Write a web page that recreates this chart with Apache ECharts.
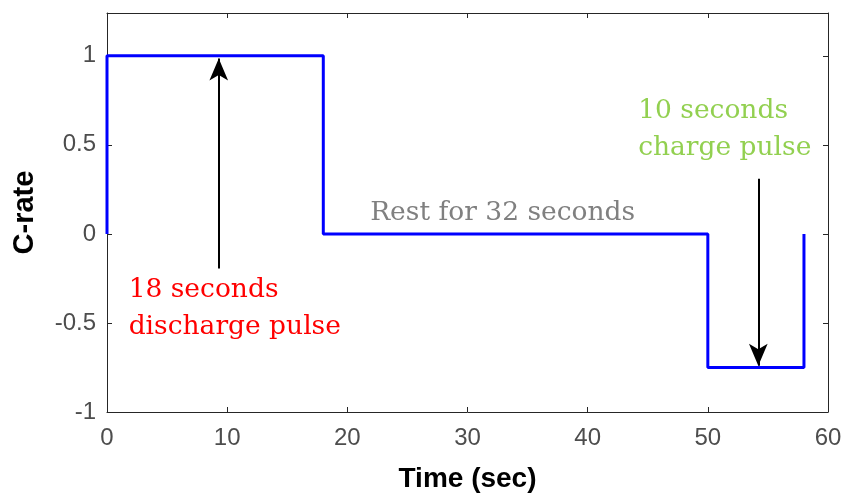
<!DOCTYPE html>
<html>
<head>
<meta charset="utf-8">
<script src="https://cdn.jsdelivr.net/npm/echarts@6/dist/echarts.min.js"></script>
<style>
  html, body { margin: 0; padding: 0; background: #fff; }
  #chart { width: 845px; height: 493px; }
</style>
</head>
<body>
<div id="chart"></div>
<script>
// Pulse profile: C-rate against time (step changes)
const times = [0, 0, 18, 18, 50, 50, 58, 58];
const rates = [0, 1, 1, 0, 0, -0.75, -0.75, 0];

// Axis settings
const xTicks = [0, 10, 20, 30, 40, 50, 60];
const yTicks = [-1, -0.5, 0, 0.5, 1];

// Annotation arrows [x, yFrom, yTo] in data units
const dischargeArrow = [9.3, -0.195, 0.985];
const chargeArrow = [54.2, 0.31, -0.74];

// Annotation texts: [text, x, y, colour]
const notes = [
  ['18 seconds\ndischarge pulse', 1.8, -0.42, '#ff0000'],
  ['Rest for 32 seconds', 21.9, 0.115, '#808080'],
  ['10 seconds\ncharge pulse', 44.2, 0.585, '#92d050']
];

const pts = times.map((t, i) => [t, rates[i]]);
const axisCol = '#262626';
const labCol = '#4d4d4d';
const sans = 'Liberation Sans, Arial, sans-serif';
const serif = 'DejaVu Serif, serif';

const chart = echarts.init(document.getElementById('chart'));

function arrowLine(a) {
  return [{ coord: [a[0], a[1]] }, { coord: [a[0], a[2]] }];
}

const frameAxis = {
  axisLine: { show: true, onZero: false, lineStyle: { color: axisCol } },
  axisTick: { show: true, inside: true, length: 5, lineStyle: { color: axisCol } },
  axisLabel: { show: false },
  splitLine: { show: false }
};

chart.setOption({
  animation: false,
  grid: { left: 107, right: 17, top: 13, bottom: 81, containLabel: false, outerBoundsMode: 'none' },
  xAxis: [{
    type: 'value', min: xTicks[0], max: xTicks[xTicks.length - 1], interval: 10,
    name: 'Time (sec)', nameLocation: 'middle', nameGap: 53,
    nameTextStyle: { fontFamily: sans, fontWeight: 'bold', fontSize: 28, color: '#000' },
    axisLine: { show: true, onZero: false, lineStyle: { color: axisCol } },
    axisTick: { show: true, inside: true, length: 5, lineStyle: { color: axisCol } },
    axisLabel: { fontFamily: sans, fontSize: 24, color: labCol, margin: 14 },
    splitLine: { show: false }
  }, Object.assign({
    type: 'value', position: 'top', min: xTicks[0], max: xTicks[xTicks.length - 1], interval: 10
  }, frameAxis)],
  yAxis: [{
    type: 'value', min: yTicks[0], max: 1.24, interval: 0.5,
    name: 'C-rate', nameLocation: 'middle', nameGap: 68,
    nameTextStyle: { fontFamily: sans, fontWeight: 'bold', fontSize: 29, color: '#000' },
    axisLine: { show: true, onZero: false, lineStyle: { color: axisCol } },
    axisTick: { show: true, inside: true, length: 5, lineStyle: { color: axisCol } },
    axisLabel: {
      fontFamily: sans, fontSize: 24, color: labCol, margin: 11,
      formatter: v => (yTicks.some(t => Math.abs(t - v) < 1e-9) ? String(v) : '')
    },
    splitLine: { show: false }
  }, Object.assign({
    type: 'value', position: 'right', min: yTicks[0], max: 1.24, interval: 0.5
  }, frameAxis)],
  series: [{
    type: 'line',
    data: pts,
    showSymbol: false,
    symbol: 'none',
    lineStyle: { color: '#0000ff', width: 3 },
    markLine: {
      silent: true,
      symbol: ['none', 'arrow'],
      symbolSize: [14, 22],
      label: { show: false },
      lineStyle: { color: '#000', width: 2, type: 'solid' },
      data: [arrowLine(dischargeArrow), arrowLine(chargeArrow)]
    }
  }]
});

// Place annotation texts in data coordinates
chart.setOption({
  graphic: notes.map(n => {
    const p = chart.convertToPixel({ gridIndex: 0 }, [n[1], n[2]]);
    return {
      type: 'text', x: p[0], y: p[1],
      style: {
        text: n[0], fill: n[3], font: '26.5px ' + serif,
        textAlign: 'left', textVerticalAlign: 'middle', lineHeight: 37
      }
    };
  })
});
</script>
</body>
</html>
